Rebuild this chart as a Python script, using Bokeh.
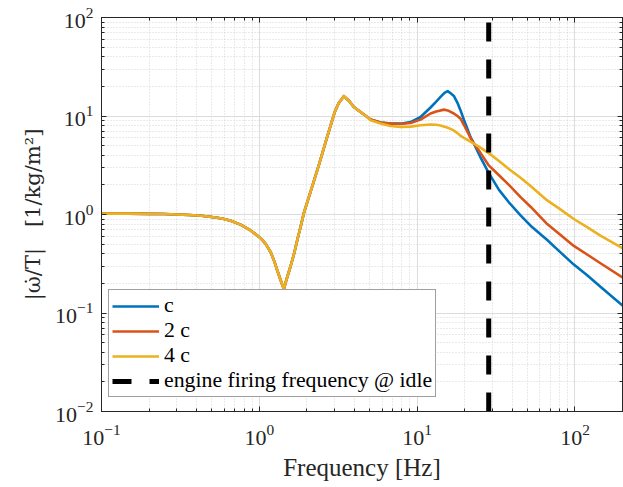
from bokeh.plotting import figure
from bokeh.models import (Range1d, LogAxis, LogTicker, CustomJSTickFormatter,
                          Legend, LegendItem)
from bokeh.embed import file_html
from bokeh.resources import INLINE

# ---- data ----
# shared part of the three curves (identical below ~5 Hz)
freq_low = [0.10, 0.15, 0.20, 0.25, 0.30, 0.36, 0.43, 0.50, 0.58, 0.66,
            0.76, 0.88, 0.96, 1.02, 1.10, 1.18, 1.24, 1.30, 1.365, 1.43,
            1.50, 1.58, 1.66, 1.74, 1.83, 1.92, 2.11, 2.38, 2.67, 3.00,
            3.18, 3.43, 3.68, 3.97, 4.40, 4.83]
val_low = [1.02, 1.02, 1.015, 1.01, 1.0, 0.99, 0.97, 0.945, 0.91, 0.865,
           0.79, 0.69, 0.62, 0.575, 0.50, 0.414, 0.34, 0.27, 0.215, 0.175,
           0.23, 0.30, 0.40, 0.55, 0.76, 1.05, 1.70, 3.15, 5.9, 10.9,
           13.5, 15.9, 14.4, 12.35, 10.9, 9.77]

freq_high = [5.07, 5.86, 6.78, 7.85, 9.08, 10.51, 12.16, 13.2, 14.07, 14.9,
             15.6, 16.3, 17.08, 18.0, 18.83, 19.8, 21.79, 22.9, 25.0, 28.44,
             33.0, 38.1, 45.2, 52.3, 66.7, 80.0, 98.3, 120.0, 145.0, 200.0]
val_c = [9.19, 8.58, 8.36, 8.36, 8.68, 9.77, 12.2, 14.0, 15.6, 17.2,
         17.9, 17.0, 16.0, 13.6, 11.4, 9.1, 6.1, 5.24, 3.9, 2.63,
         1.78, 1.33, 0.98, 0.77, 0.55, 0.42, 0.31, 0.24, 0.185, 0.119]
val_2c = [9.19, 8.58, 8.36, 8.3, 8.49, 9.19, 10.6, 11.1, 11.4, 11.6,
          11.4, 11.0, 10.6, 10.0, 9.4, 8.1, 6.0, 5.24, 4.3, 3.15,
          2.5, 2.0, 1.5, 1.2, 0.8, 0.63, 0.48, 0.39, 0.32, 0.23]
val_4c = [9.05, 8.38, 7.92, 7.73, 7.80, 8.05, 8.2, 8.15, 8.0, 7.8,
          7.6, 7.4, 7.1, 6.7, 6.3, 6.0, 5.5, 5.24, 4.8, 4.2,
          3.5, 2.9, 2.36, 1.95, 1.39, 1.14, 0.90, 0.74, 0.61, 0.455]

series_labels = ["c", "2 c", "4 c"]
series_colors = ["#0072BD", "#D95319", "#EDB120"]

firing_freq = 28.4
firing_label = "engine firing frequency @ idle"
y_limits = [0.01, 100]

FONT = "Liberation Serif"
AX = "#262626"

p = figure(width=623, height=487, x_axis_type="log", y_axis_type="log",
           x_range=Range1d(0.1, 200), y_range=Range1d(0.01, 100),
           output_backend="svg", toolbar_location=None,
           min_border_left=101, min_border_right=1, min_border_top=17,
           min_border_bottom=76)
p.background_fill_color = "white"
p.border_fill_color = "white"
p.outline_line_color = AX
p.outline_line_width = 1

p.xaxis.ticker = LogTicker(desired_num_ticks=4, num_minor_ticks=10)
p.yaxis.ticker = LogTicker(desired_num_ticks=5, num_minor_ticks=10)

for ax in (p.xaxis[0], p.yaxis[0]):
    ax.axis_line_color = AX
    ax.major_tick_line_color = AX
    ax.minor_tick_line_color = AX
    ax.major_tick_in = 5
    ax.major_tick_out = 0
    ax.minor_tick_in = 3
    ax.minor_tick_out = 0
    ax.major_label_text_font = FONT
    ax.major_label_text_font_size = "22px"
    ax.major_label_text_color = AX
    ax.axis_label_text_font = FONT
    ax.axis_label_text_font_style = "normal"
    ax.axis_label_text_font_size = "25px"
    ax.axis_label_text_color = AX

p.xaxis.axis_label = "Frequency [Hz]"
p.xaxis.major_label_standoff = 13
p.xaxis.axis_label_standoff = 6
p.yaxis.axis_label = "|ω̇/T|\u2003[1/kg/m²]"
p.yaxis.axis_label_text_font = "DejaVu Serif"
p.yaxis.axis_label_text_font_size = "21px"
p.yaxis.major_label_standoff = 8
p.yaxis.axis_label_standoff = 7

# box ticks on top and right
for loc, tk in (("above", p.xaxis.ticker), ("right", p.yaxis.ticker)):
    a = LogAxis(ticker=tk, formatter=CustomJSTickFormatter(code="return ''"),
                major_tick_in=5, major_tick_out=0, minor_tick_in=3,
                minor_tick_out=0, major_label_standoff=0,
                axis_line_color=AX, major_tick_line_color=AX,
                minor_tick_line_color=AX)
    p.add_layout(a, loc)

for g in (p.xgrid[0], p.ygrid[0]):
    g.grid_line_color = "#dcdcdc"
    g.grid_line_width = 1
    g.minor_grid_line_color = "#d4d4d4"
    g.minor_grid_line_dash = "1 2"
    g.minor_grid_line_width = 1

renderers = []
for lbl, col, vals in zip(series_labels, series_colors, (val_c, val_2c, val_4c)):
    xs = freq_low + freq_high
    ys = val_low + vals
    r = p.line(xs, ys, line_color=col, line_width=2.6, line_join="round")
    renderers.append((lbl, r))

rv = p.line([firing_freq, firing_freq], y_limits, line_color="black",
            line_width=5, line_dash="19 18")
renderers.append((firing_label, rv))

legend = Legend(items=[LegendItem(label=l, renderers=[r]) for l, r in renderers],
                location=(7, 14))
legend.label_text_font = FONT
legend.label_text_font_size = "21.8px"
legend.label_text_color = "black"
legend.glyph_width = 47
legend.glyph_height = 18
legend.label_height = 18
legend.label_standoff = 5
legend.spacing = -1
legend.padding = 3
legend.margin = 0
legend.border_line_color = "#404040"
legend.border_line_width = 1
legend.background_fill_color = "white"
legend.background_fill_alpha = 1
p.add_layout(legend, "center")

open("out.html", "w").write(file_html(p, INLINE))
